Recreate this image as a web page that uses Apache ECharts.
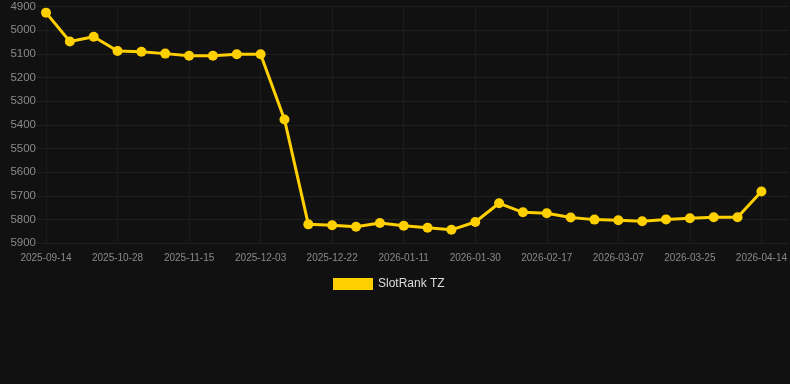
<!DOCTYPE html>
<html>
<head>
<meta charset="utf-8">
<script src="https://cdn.jsdelivr.net/npm/echarts@6/dist/echarts.min.js"></script>
<style>
html,body{margin:0;padding:0;background:#111111;}
#chart{width:790px;height:384px;}
</style>
</head>
<body>
<div id="chart"></div>
<script>
const categories = [
  "2025-09-14","2025-09-29","2025-10-13","2025-10-28","2025-11-03","2025-11-09",
  "2025-11-15","2025-11-21","2025-11-27","2025-12-03","2025-12-09","2025-12-15",
  "2025-12-22","2025-12-29","2026-01-04","2026-01-11","2026-01-17","2026-01-23",
  "2026-01-30","2026-02-05","2026-02-11","2026-02-17","2026-02-23","2026-03-01",
  "2026-03-07","2026-03-13","2026-03-19","2026-03-25","2026-03-31","2026-04-07",
  "2026-04-14"
];
const seriesName = "SlotRank TZ";
const rankValues = [
  4926, 5048, 5028, 5088, 5091, 5099, 5108, 5108, 5102, 5102,
  5377, 5820, 5824, 5830, 5814, 5826, 5834, 5843, 5810, 5731,
  5769, 5773, 5791, 5800, 5803, 5807, 5799, 5794, 5790, 5790,
  5681
];
const yMin = 4900, yMax = 5900, yStep = 100;

const chart = echarts.init(document.getElementById('chart'));
const font = 'Liberation Sans, Arial, sans-serif';
chart.setOption({
  backgroundColor: '#111111',
  animation: false,
  grid: [
    {left: 37, right: 2, top: 6.5, bottom: 140.7, containLabel: false},
    {left: 46, right: 28, top: 6.5, bottom: 140.7, containLabel: false}
  ],
  legend: {
    show: true,
    top: 273,
    left: 328,
    icon: 'rect',
    itemWidth: 40,
    itemHeight: 12,
    itemGap: 10,
    textStyle: {color: '#dddddd', fontSize: 12, fontFamily: font},
    data: [seriesName]
  },
  xAxis: [
    {gridIndex: 0, type: 'value', min: 0, max: 1, show: false},
    {
      gridIndex: 1,
      type: 'category',
      data: categories,
      boundaryGap: false,
      axisLine: {show: false},
      axisTick: {show: false},
      axisLabel: {color: '#8a8a8a', fontSize: 10, fontFamily: font, interval: 2, margin: 10},
      splitLine: {show: true, interval: 2, lineStyle: {color: '#1c1c1c', width: 1}}
    }
  ],
  yAxis: [
    {
      gridIndex: 0, type: 'value', inverse: true, min: yMin, max: yMax, interval: yStep,
      axisLine: {show: false}, axisTick: {show: false}, axisLabel: {show: false},
      splitLine: {show: true, lineStyle: {color: '#1f1f1f', width: 1}}
    },
    {
      gridIndex: 1, type: 'value', inverse: true, min: yMin, max: yMax, interval: yStep,
      axisLine: {show: false}, axisTick: {show: false},
      axisLabel: {color: '#8a8a8a', fontSize: 11.5, fontFamily: font, margin: 10,
        formatter: function (v) { return String(v); }},
      splitLine: {show: false}
    }
  ],
  series: [
    {
      name: seriesName,
      type: 'line',
      xAxisIndex: 1,
      yAxisIndex: 1,
      data: rankValues,
      symbol: 'circle',
      symbolSize: 10,
      lineStyle: {color: '#ffd000', width: 3},
      itemStyle: {color: '#ffd000'},
      z: 5
    }
  ]
});
</script>
</body>
</html>
